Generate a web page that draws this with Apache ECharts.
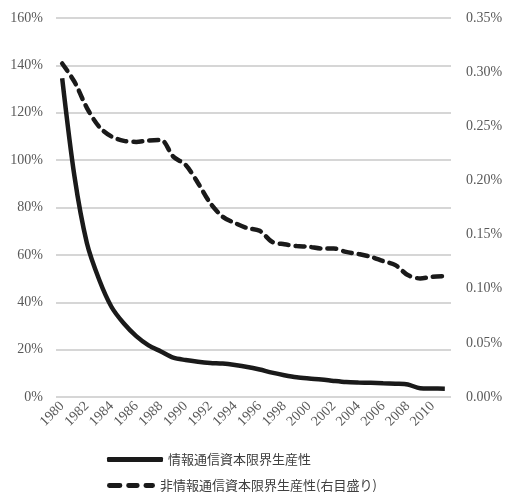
<!DOCTYPE html>
<html>
<head>
<meta charset="utf-8">
<script src="https://cdn.jsdelivr.net/npm/echarts@6/dist/echarts.min.js"></script>
<style>html,body{margin:0;padding:0;background:#fff}#c{width:514px;height:492px}</style>
</head>
<body>
<div id="c"></div>
<script>
const years = ['1980','1981','1982','1983','1984','1985','1986','1987','1988','1989','1990','1991','1992','1993','1994','1995','1996','1997','1998','1999','2000','2001','2002','2003','2004','2005','2006','2007','2008','2009','2010','2011'];
const ictMP = [134.6,93,65,49.5,38,31,25.7,21.8,19.2,16.6,15.6,14.9,14.4,14.1,13.5,12.7,11.6,10.3,9.2,8.3,7.8,7.4,6.8,6.3,6.1,6.0,5.8,5.6,5.3,3.7,3.6,3.5];
const nonIctMP = [0.308,0.291,0.267,0.2495,0.2405,0.2365,0.2356,0.2368,0.2374,0.222,0.2143,0.1977,0.179,0.1665,0.1606,0.156,0.1535,0.1434,0.141,0.1394,0.1387,0.1372,0.1372,0.134,0.132,0.1295,0.1255,0.1218,0.1126,0.1095,0.111,0.1117];
const seriesNames = ['情報通信資本限界生産性','非情報通信資本限界生産性(右目盛り)'];

const chart = echarts.init(document.getElementById('c'));
const serif = 'Liberation Serif';
const legendText = {fontFamily: 'Noto Sans CJK JP', fontSize: 13, color: '#404040'};
chart.setOption({
  animation: false,
  grid: {left: 56, right: 63, top: 18, bottom: 95},
  legend: [
    {left: 102, top: 448, itemWidth: 56, itemHeight: 5, itemGap: 0, textStyle: legendText,
     data: [{name: seriesNames[0], icon: 'roundRect'}]},
    {left: 102, top: 474, itemWidth: 48, itemHeight: 5, itemGap: 0, textStyle: legendText,
     data: [{name: seriesNames[1], icon: 'path://M2,0h11a2,2 0 0 1 0,5h-11a2,2 0 0 1 0,-5z M22,0h9a2,2 0 0 1 0,5h-9a2,2 0 0 1 0,-5z M40,0h7a2,2 0 0 1 0,5h-7a2,2 0 0 1 0,-5z'}]}
  ],
  xAxis: {
    type: 'category', data: years, boundaryGap: true,
    axisLine: {show: false}, axisTick: {show: false},
    axisLabel: {interval: 1, rotate: 45, fontFamily: serif, fontSize: 14, color: '#595959', margin: 7}
  },
  yAxis: [
    {type: 'value', min: 0, max: 160, interval: 20,
     axisLine: {show: false}, axisTick: {show: false},
     splitLine: {lineStyle: {color: '#c8c8c8', width: 1.5}},
     axisLabel: {formatter: v => v + '%', fontFamily: serif, fontSize: 14, color: '#595959', margin: 13}},
    {type: 'value', min: 0, max: 0.35, interval: 0.05, position: 'right',
     axisLine: {show: false}, axisTick: {show: false}, splitLine: {show: false},
     axisLabel: {formatter: v => v.toFixed(2) + '%', fontFamily: serif, fontSize: 14, color: '#595959', margin: 15}}
  ],
  series: [
    {name: seriesNames[0], type: 'line', yAxisIndex: 0, data: ictMP, symbol: 'none', smooth: 0.3,
     lineStyle: {color: '#1a1a1a', width: 4.5}, itemStyle: {color: '#1a1a1a'}},
    {name: seriesNames[1], type: 'line', yAxisIndex: 1, data: nonIctMP, symbol: 'none', smooth: 0.3,
     lineStyle: {color: '#1a1a1a', width: 4.5, type: [9, 7], cap: 'round'}, itemStyle: {color: '#1a1a1a'}}
  ]
});
</script>
</body>
</html>
